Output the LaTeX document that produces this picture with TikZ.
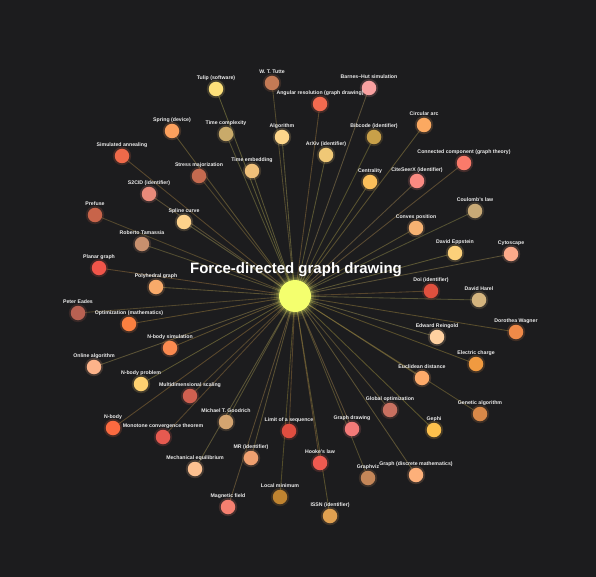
\documentclass[tikz,border=0pt]{standalone}
\usepackage{fontspec}
\setmainfont{Liberation Sans}
\definecolor{bgc}{HTML}{1C1C1E}
\definecolor{hub}{HTML}{F4FF6E}
\definecolor{lblc}{HTML}{EDEDED}
\tikzset{
  dot/.style={circle, inner sep=0pt, minimum size=14.5pt},
  hubnode/.style={circle, inner sep=0pt, minimum size=32pt, fill=hub},
  lbl/.style={font=\bfseries\fontsize{5.2}{6}\selectfont, text=lblc, inner sep=0pt},
  title/.style={font=\bfseries\fontsize{15}{18}\selectfont, text=white, inner sep=0pt},
  edge/.style={line width=0.85pt, opacity=0.42}
}
\def\nodelist{
 1/216/89/FDE07A/{Tulip (software)},
 2/272/83/C47A55/{W. T. Tutte},
 3/369/88/F9A0A0/{Barnes–Hut simulation},
 4/320/104/F26A4F/{Angular resolution (graph drawing)},
 5/172/131/FCA05D/{Spring (device)},
 6/226/134/C9AA6A/{Time complexity},
 7/282/137/FDD58A/{Algorithm},
 8/374/137/C8A049/{Bibcode (identifier)},
 9/424/125/FBA961/{Circular arc},
 10/122/156/EF6A4A/{Simulated annealing},
 11/199/176/C56A4F/{Stress majorization},
 12/252/171/F0C07A/{Time embedding},
 13/326/155/F0C876/{ArXiv (identifier)},
 14/464/163/FA7A6A/{Connected component (graph theory)},
 15/370/182/FBBF5A/{Centrality},
 16/417/181/FB8A82/{CiteSeerX (identifier)},
 17/149/194/E88A7A/{S2CID (identifier)},
 18/184/222/FED28B/{Spline curve},
 19/475/211/C9AA76/{Coulomb's law},
 20/416/228/F6B272/{Convex position},
 21/95/215/C8644A/{Prefuse},
 22/142/244/C8906E/{Roberto Tamassia},
 23/455/253/FCD07A/{David Eppstein},
 24/511/254/FCAA8A/{Cytoscape},
 25/99/268/F0554A/{Planar graph},
 26/156/287/F8AA6A/{Polyhedral graph},
 27/431/291/E0503E/{Doi (identifier)},
 28/479/300/D4B47E/{David Harel},
 29/78/313/B86152/{Peter Eades},
 30/129/324/FB8040/{Optimization (mathematics)},
 31/516/332/F08A48/{Dorothea Wagner},
 32/437/337/FED0A0/{Edward Reingold},
 33/170/348/FB8A50/{N-body simulation},
 34/94/367/FCB38A/{Online algorithm},
 35/476/364/F09A40/{Electric charge},
 36/422/378/FDAA6A/{Euclidean distance},
 37/141/384/FED070/{N-body problem},
 38/190/396/D06050/{Multidimensional scaling},
 39/390/410/C87060/{Global optimization},
 40/480/414/D88848/{Genetic algorithm},
 41/226/422/D4A470/{Michael T. Goodrich},
 42/289/431/E04E40/{Limit of a sequence},
 43/352/429/F47A78/{Graph drawing},
 44/434/430/FDC04C/{Gephi},
 45/113/428/FB6A40/{N-body},
 46/163/437/E65A50/{Monotone convergence theorem},
 47/251/458/F0A070/{MR (identifier)},
 48/320/463/EE5A50/{Hooke's law},
 49/195/469/FCC090/{Mechanical equilibrium},
 50/368/478/C48658/{Graphviz},
 51/416/475/FDB07A/{Graph (discrete mathematics)},
 52/280/497/C08430/{Local minimum},
 53/228/507/F68070/{Magnetic field},
 54/330/516/E0A050/{ISSN (identifier)}}
\begin{document}
\begin{tikzpicture}[x=1pt,y=-1pt]
\fill[bgc] (0,0) rectangle (596,577);
\useasboundingbox (0,0) rectangle (596,577);
% hub
\coordinate (hc) at (295,296);
% node positions
\foreach \i/\x/\y/\c/\t in \nodelist {
  \coordinate (p\i) at (\x,\y);
}
% edges
\foreach \i/\x/\y/\c/\t in \nodelist {
  \definecolor{nc}{HTML}{\c}
  \draw[edge, color=nc!45!hub!72!black] (hc) -- (p\i);
}
% hub glow and hub
\foreach \r/\o in {24/0.05,21/0.08,19/0.12,17.5/0.2} {
  \fill[hub, opacity=\o] (hc) circle (\r);
}
\node[hubnode] (hub) at (hc) {};
% nodes and labels
\foreach \i/\x/\y/\c/\t in \nodelist {
  \definecolor{nc}{HTML}{\c}
  \fill[nc, opacity=0.18] (p\i) circle (9.2);
  \node[dot, fill=nc] (n\i) at (p\i) {};
  \node[lbl] (l\i) at (\x,\y-11) {\t};
}
\node[title] (ttl) at (296,270) {Force-directed graph drawing};
\end{tikzpicture}
\end{document}
